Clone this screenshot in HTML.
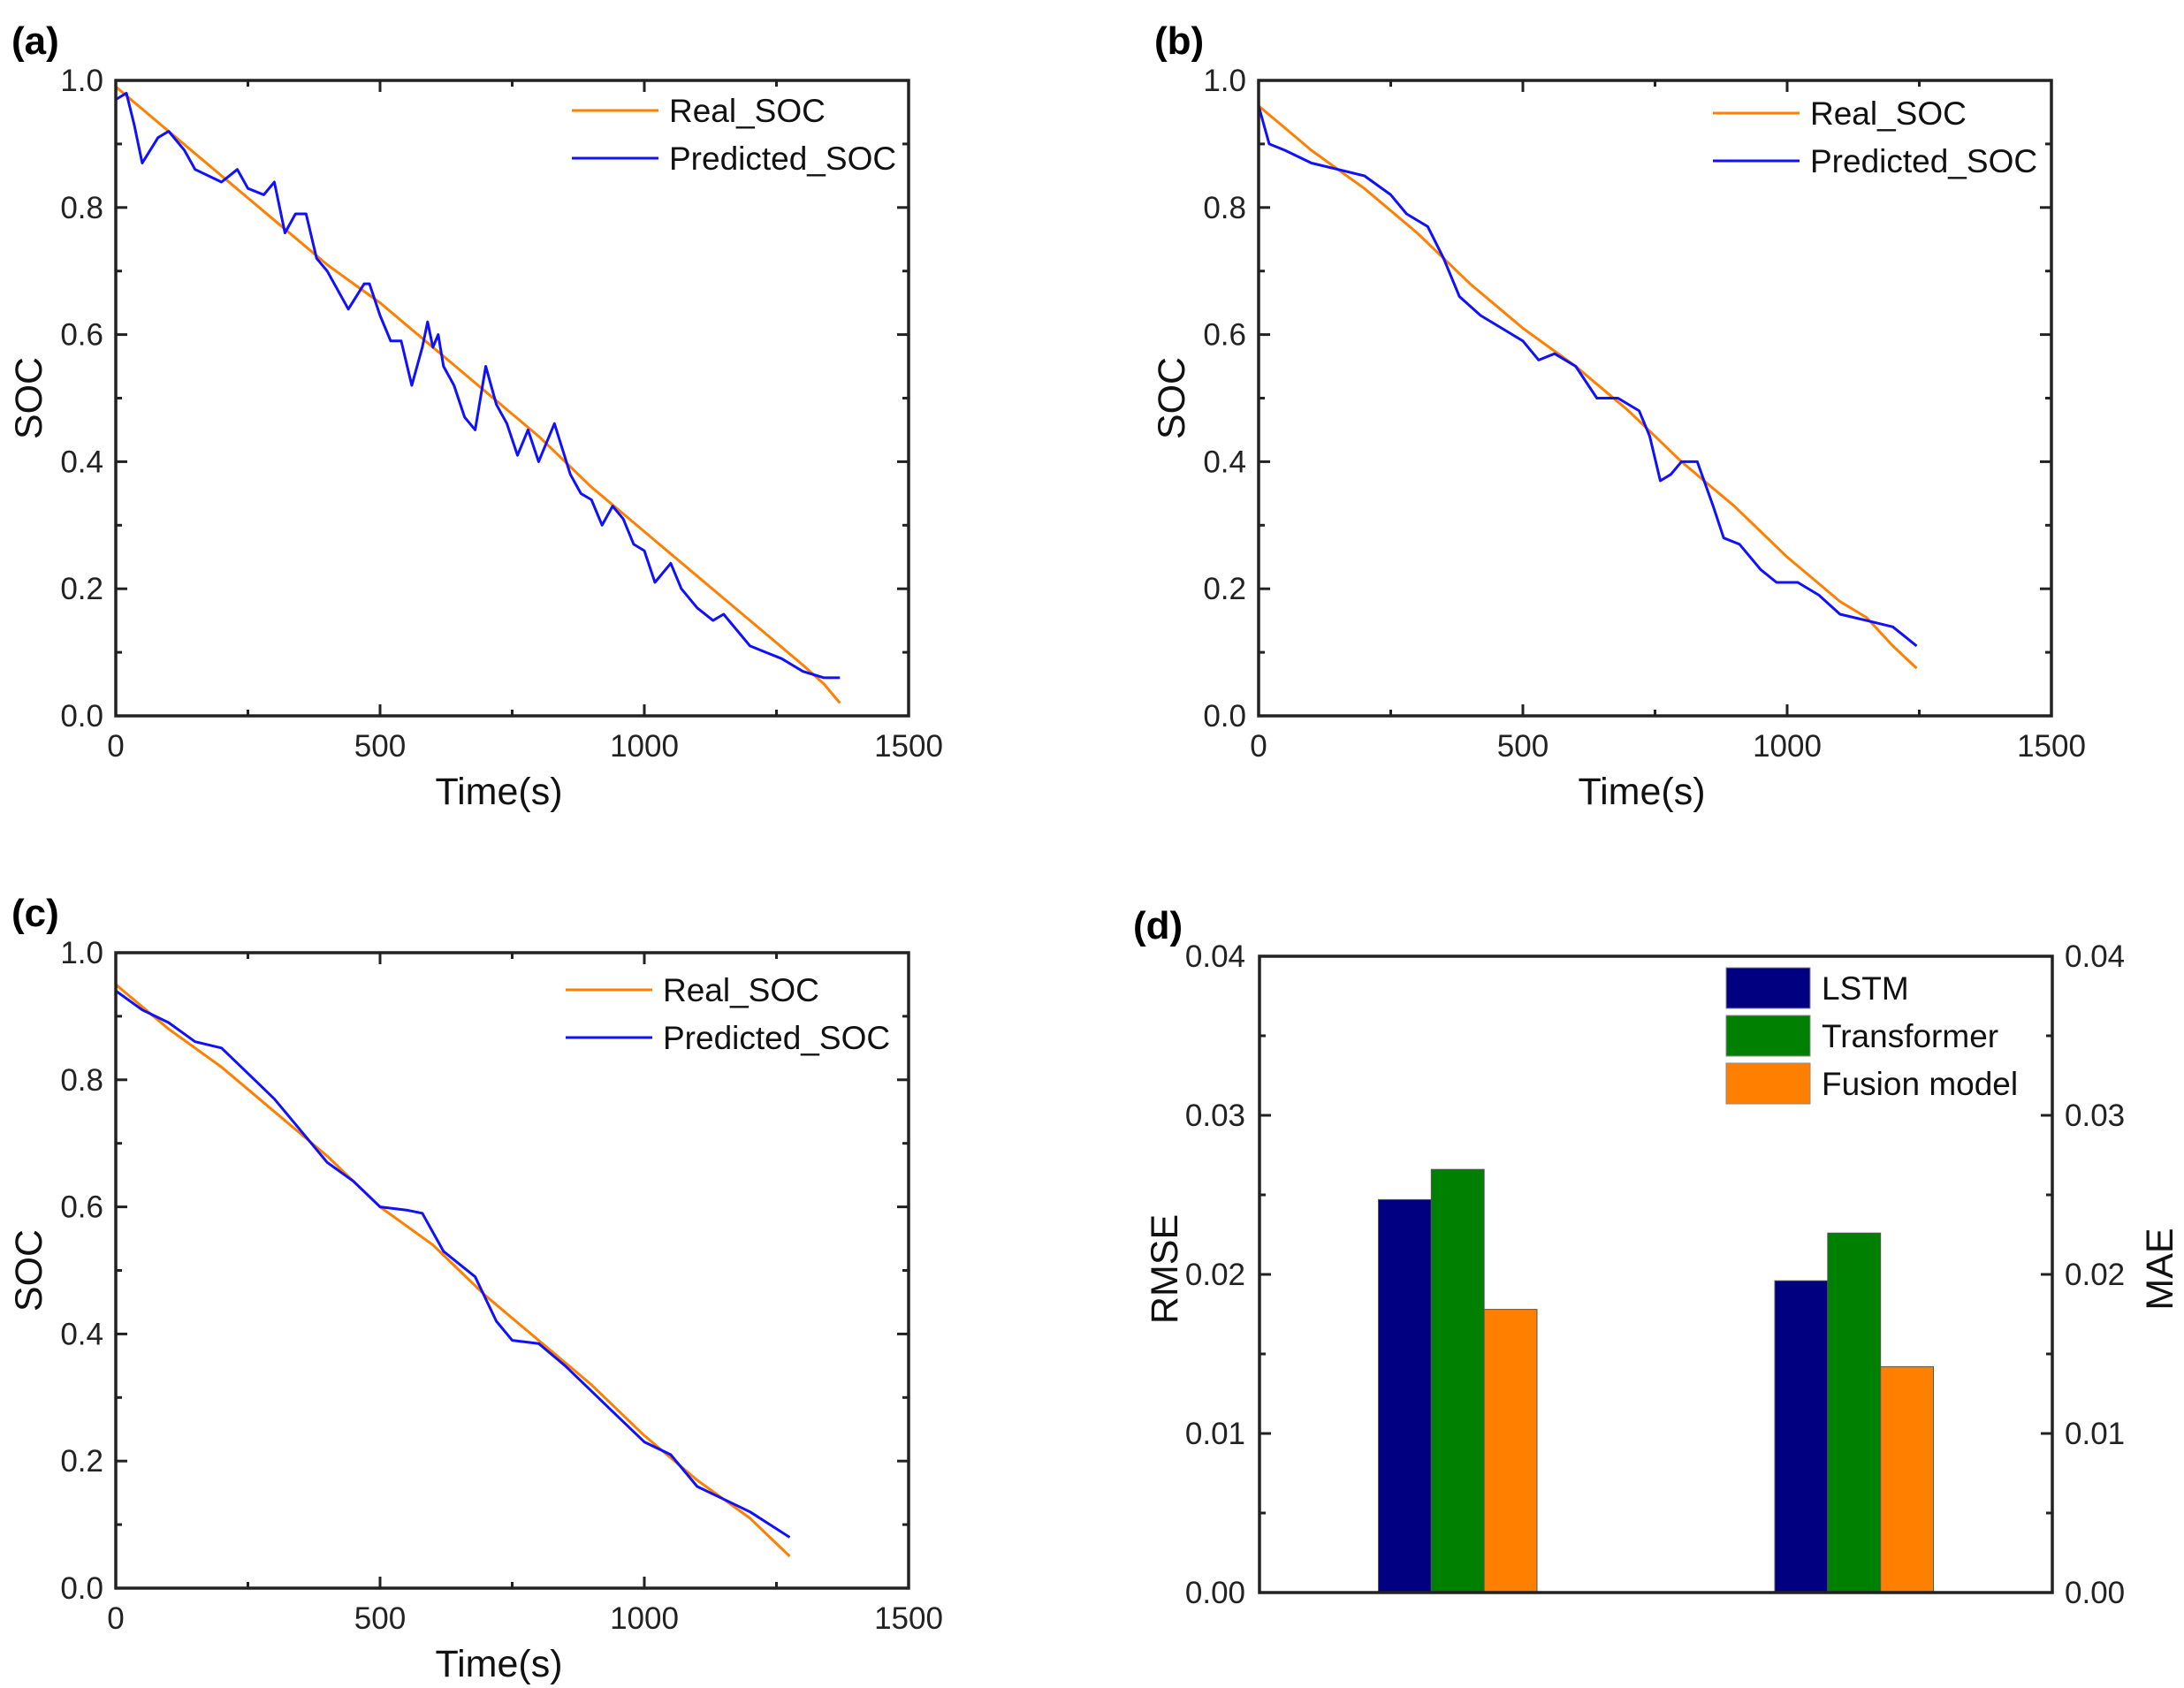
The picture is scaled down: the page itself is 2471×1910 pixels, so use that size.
<!DOCTYPE html>
<html><head><meta charset="utf-8">
<style>
html,body{margin:0;padding:0;background:#fff;}
svg{display:block;font-family:"Liberation Sans",sans-serif;}
</style></head>
<body>
<svg id="fig" width="2471" height="1910" viewBox="0 0 2471 1910" xmlns="http://www.w3.org/2000/svg">
<rect width="2471" height="1910" fill="#fff"/>
</svg>
<script>
// Panel (a)
const aRealT=[0,50,100,150,200,250,300,350,400,450,500,550,600,650,700,750,800,850,900,950,1000,1050,1100,1150,1200,1250,1300,1340,1370];
const aRealV=[0.99,0.955,0.92,0.885,0.85,0.815,0.78,0.745,0.71,0.68,0.65,0.615,0.58,0.545,0.51,0.475,0.44,0.40,0.36,0.325,0.29,0.255,0.22,0.185,0.15,0.115,0.08,0.05,0.02];
const aPredT=[0,20,35,50,80,100,130,150,200,230,250,280,300,320,340,360,380,400,420,440,470,480,500,520,540,560,580,590,600,610,620,640,660,680,700,720,740,760,780,800,830,860,880,900,920,940,960,980,1000,1020,1050,1070,1100,1130,1150,1180,1200,1230,1260,1280,1300,1340,1370];
const aPredV=[0.97,0.98,0.93,0.87,0.91,0.92,0.89,0.86,0.84,0.86,0.83,0.82,0.84,0.76,0.79,0.79,0.72,0.70,0.67,0.64,0.68,0.68,0.63,0.59,0.59,0.52,0.58,0.62,0.58,0.60,0.55,0.52,0.47,0.45,0.55,0.49,0.46,0.41,0.45,0.40,0.46,0.38,0.35,0.34,0.30,0.33,0.31,0.27,0.26,0.21,0.24,0.20,0.17,0.15,0.16,0.13,0.11,0.10,0.09,0.08,0.07,0.06,0.06];
// Panel (b)
const bRealT=[0,50,100,150,200,250,300,350,400,450,500,550,600,650,700,750,800,850,900,950,1000,1050,1100,1150,1200,1245];
const bRealV=[0.96,0.925,0.89,0.86,0.83,0.795,0.76,0.72,0.68,0.645,0.61,0.58,0.55,0.515,0.48,0.44,0.40,0.365,0.33,0.29,0.25,0.215,0.18,0.155,0.11,0.075];
const bPredT=[0,20,50,100,150,200,250,280,320,350,380,420,460,500,530,560,600,640,680,720,740,760,780,800,830,860,880,910,950,980,1020,1060,1100,1150,1200,1245];
const bPredV=[0.96,0.90,0.89,0.87,0.86,0.85,0.82,0.79,0.77,0.72,0.66,0.63,0.61,0.59,0.56,0.57,0.55,0.50,0.50,0.48,0.44,0.37,0.38,0.40,0.40,0.33,0.28,0.27,0.23,0.21,0.21,0.19,0.16,0.15,0.14,0.11];
// Panel (c)
const cRealT=[0,100,200,300,400,500,600,700,800,900,1000,1100,1200,1275];
const cRealV=[0.95,0.88,0.82,0.75,0.68,0.60,0.54,0.46,0.39,0.32,0.24,0.17,0.11,0.05];
const cPredT=[0,50,100,150,200,250,300,350,400,450,500,550,580,620,650,680,720,750,800,850,900,950,1000,1050,1100,1150,1200,1275];
const cPredV=[0.94,0.91,0.89,0.86,0.85,0.81,0.77,0.72,0.67,0.64,0.60,0.595,0.59,0.53,0.51,0.49,0.42,0.39,0.385,0.35,0.31,0.27,0.23,0.21,0.16,0.14,0.12,0.08];
// Panel (d)
const dGroups=["RMSE","MAE"];
const dSeries=["LSTM","Transformer","Fusion model"];
const dLSTM=[0.0247,0.0196];
const dTransformer=[0.0266,0.0226];
const dFusion=[0.0178,0.0142];

const NS="http://www.w3.org/2000/svg";
const fig=document.getElementById('fig');
function el(tag,attrs,parent,text){const e=document.createElementNS(NS,tag);for(const k in attrs)e.setAttribute(k,attrs[k]);if(text!==undefined)e.textContent=text;(parent||fig).appendChild(e);return e;}
const ORANGE="#ff8000",BLUE="#1010ff";

function linePanel(id,L,T,R,B,realT,realV,predT,predV,legX,legY){
  const g=el('g',{});
  
  
  const sx=v=>L+(R-L)*v/1500, sy=v=>B-(B-T)*v/1.0;
  const lab=el('text',{x:L-118,y:T-30,'font-size':44,'font-weight':'bold'},g,'('+id+')');
  
  
  for(let i=0;i<=6;i++){const v=i*250,x=sx(v),len=i%2===0?13:7;
    el('line',{x1:x,y1:B,x2:x,y2:B-len,stroke:'#222','stroke-width':3},g);
    el('line',{x1:x,y1:T,x2:x,y2:T+len,stroke:'#222','stroke-width':3},g);
    if(i%2===0){const t=el('text',{x:x,y:B+46,'font-size':35,'text-anchor':'middle',fill:'#222'},g,String(v));
      }
  }
  for(let i=0;i<=10;i++){const v=i/10,y=sy(v),len=i%2===0?13:7;
    el('line',{x1:L,y1:y,x2:L+len,y2:y,stroke:'#222','stroke-width':3},g);
    el('line',{x1:R,y1:y,x2:R-len,y2:y,stroke:'#222','stroke-width':3},g);
    if(i%2===0){const t=el('text',{x:L-14,y:y+12,'font-size':35,'text-anchor':'end',fill:'#222'},g,v.toFixed(1));
      }
  }
  const pts=(ts,vs)=>ts.map((t,i)=>sx(t).toFixed(1)+','+sy(vs[i]).toFixed(1)).join(' ');
  const r=el('polyline',{points:pts(realT,realV),fill:'none',stroke:ORANGE,'stroke-width':3,'stroke-linejoin':'round'},g);
  
  const p=el('polyline',{points:pts(predT,predV),fill:'none',stroke:BLUE,'stroke-width':3,'stroke-linejoin':'round'},g);
  
  const fr=el('rect',{x:L,y:T,width:R-L,height:B-T,fill:'none',stroke:'#222','stroke-width':3.5},g);
  
  const names=["Real_SOC","Predicted_SOC"],cols=[ORANGE,BLUE];
  for(let i=0;i<2;i++){const y=legY+i*54;
    const le=el('g',{},g);
    
    el('line',{x1:legX,y1:y,x2:legX+98,y2:y,stroke:cols[i],'stroke-width':3},le);
    el('text',{x:legX+110,y:y+13,'font-size':37,fill:'#111'},le,names[i]);
  }
  const xt=el('text',{x:(L+R)/2-15,y:B+100,'font-size':43,'text-anchor':'middle',fill:'#111'},g,'Time(s)');
  
  const yt=el('text',{x:0,y:0,'font-size':43,'text-anchor':'middle',fill:'#111',transform:`translate(${L-84},${(T+B)/2}) rotate(-90)`},g,'SOC');
  
}
linePanel('a',131,91,1028,810,aRealT,aRealV,aPredT,aPredV,647,125);
linePanel('b',1424,91,2321,810,bRealT,bRealV,bPredT,bPredV,1938,128);
linePanel('c',131,1078,1028,1797,cRealT,cRealV,cPredT,cPredV,640,1120);

// Panel d
(function(){
  const L=1425,T=1082,R=2322,B=1802;
  const g=el('g',{});
  
  
  const sy=v=>B-(B-T)*v/0.04;
  const lab=el('text',{x:1282,y:1062,'font-size':44,'font-weight':'bold'},g,'(d)');
  
  for(let i=0;i<=8;i++){const v=i*0.005,y=sy(v),len=i%2===0?13:7;
    el('line',{x1:L,y1:y,x2:L+len,y2:y,stroke:'#222','stroke-width':3},g);
    el('line',{x1:R,y1:y,x2:R-len,y2:y,stroke:'#222','stroke-width':3},g);
    if(i%2===0){
      const t1=el('text',{x:L-16,y:y+12,'font-size':35,'text-anchor':'end',fill:'#222'},g,v.toFixed(2));
      
      const t2=el('text',{x:R+14,y:y+12,'font-size':35,'text-anchor':'start',fill:'#222'},g,v.toFixed(2));
      
    }
  }
  const series=[dLSTM,dTransformer,dFusion],cols=["#000080","#008000","#ff8000"];
  const bw=(R-L)*0.0667;
  dGroups.forEach((gname,gi)=>{
    const cx=L+(R-L)*(0.25+0.5*gi);
    series.forEach((s,si)=>{
      const x=cx+(si-1.5)*bw, y=sy(s[gi]);
      const b=el('rect',{x:x,y:y,width:bw,height:B-y,fill:cols[si],stroke:'#555','stroke-width':1},g);
      
      
    });
  });
  const fr=el('rect',{x:L,y:T,width:R-L,height:B-T,fill:'none',stroke:'#222','stroke-width':3.5},g);
  
  dSeries.forEach((n,i)=>{
    const y=1095+i*54;
    const le=el('g',{},g);
    
    el('rect',{x:1953,y:y,width:95,height:46,fill:cols[i],stroke:'#888','stroke-width':1},le);
    el('text',{x:2061,y:y+36,'font-size':37,fill:'#111'},le,n);
  });
  const yt=el('text',{x:0,y:0,'font-size':43,'text-anchor':'middle',fill:'#111',transform:`translate(1332,1436) rotate(-90)`},g,'RMSE');
  
  const yt2=el('text',{x:0,y:0,'font-size':43,'text-anchor':'middle',fill:'#111',transform:`translate(2458,1436) rotate(-90)`},g,'MAE');
  
})();
</script>
</body></html>
